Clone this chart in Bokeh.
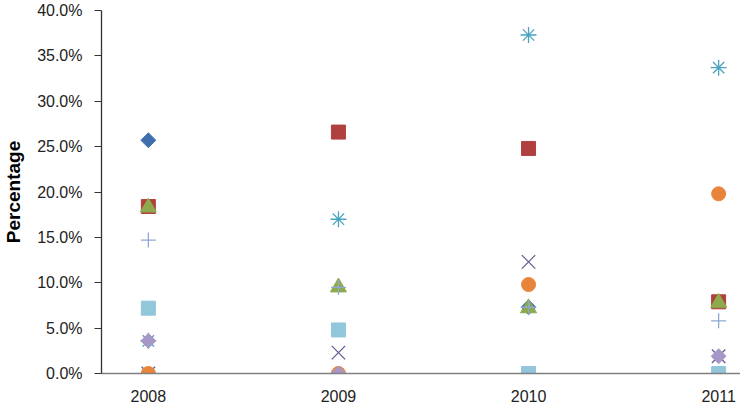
import math
from bokeh.plotting import figure
from bokeh.models import Range1d, FixedTicker, NumeralTickFormatter, ColumnDataSource
from bokeh.embed import file_html
from bokeh.resources import INLINE

years = ["2008", "2009", "2010", "2011"]
y_ticks = [0, 5, 10, 15, 20, 25, 30, 35, 40]

s1_diamond_blue = [25.7, 0.0, 7.3, 0.0]
s2_square_red = [18.4, 26.6, 24.8, 7.9]
s3_triangle_green = [18.3, 9.5, 7.2, 7.8]
s4_x_purple = [0.0, 2.3, 12.3, 1.9]
s5_star_teal = [3.6, 17.0, 37.3, 33.7]
s6_circle_orange = [0.0, 0.0, 9.8, 19.8]
s7_plus_lightblue = [14.7, 9.5, 7.3, 5.8]
s8_diamond_lavender = [3.6, 0.0, 0.0, 1.9]
s9_square_lightteal = [7.2, 4.8, 0.0, 0.0]

# (values, marker, colour, size, filled, angle)
series = [
    (s1_diamond_blue, "square", "#3F6FAE", 10.5, True, math.pi / 4),
    (s2_square_red, "square", "#B0403E", 14, True, 0),
    (s3_triangle_green, "triangle", "#8DAA4C", 16, True, 0),
    (s4_x_purple, "x", "#6A5A96", 19, False, 0),
    (s5_star_teal, "asterisk", "#4AA4C0", 16, False, 0),
    (s6_circle_orange, "circle", "#E9843B", 14, True, 0),
    (s7_plus_lightblue, "cross", "#8EA7D6", 15, False, 0),
    (s8_diamond_lavender, "square", "#A797C6", 10.5, True, math.pi / 4),
    (s9_square_lightteal, "square", "#92C6DB", 14, True, 0),
]

p = figure(width=740, height=404, output_backend="svg", toolbar_location=None,
           x_range=Range1d(-0.2465, 3.115), y_range=Range1d(0, 0.40),
           min_border_left=99, min_border_top=10, min_border_bottom=30, min_border_right=0)
p.outline_line_color = None
p.grid.visible = False
p.background_fill_color = "white"

xs = list(range(len(years)))
for vals, marker, color, size, filled, angle in series:
    src = ColumnDataSource(dict(x=xs, y=[v / 100 for v in vals]))
    if filled:
        p.scatter("x", "y", source=src, marker=marker, size=size, angle=angle,
                  fill_color=color, line_color=color, line_width=1)
    else:
        p.scatter("x", "y", source=src, marker=marker, size=size, angle=angle,
                  fill_color=None, line_color=color, line_width=1.3)

p.xaxis.ticker = FixedTicker(ticks=xs)
p.xaxis.major_label_overrides = {i: y for i, y in enumerate(years)}
p.xaxis.major_tick_line_color = None
p.xaxis.minor_tick_line_color = None
p.xaxis.axis_line_color = "#808080"
p.xaxis.axis_line_width = 1.5
p.xaxis.major_label_text_font = "Liberation Sans"
p.xaxis.major_label_text_font_size = "16px"
p.xaxis.major_label_text_color = "#222222"
p.xaxis.major_label_standoff = 10

p.yaxis.ticker = FixedTicker(ticks=[t / 100 for t in y_ticks])
p.yaxis.formatter = NumeralTickFormatter(format="0.0%")
p.yaxis.minor_tick_line_color = None
p.yaxis.major_tick_out = 7
p.yaxis.major_tick_in = 0
p.yaxis.axis_line_color = "#333333"
p.yaxis.major_tick_line_color = "#333333"
p.yaxis.axis_line_width = 1.3
p.yaxis.major_label_text_font = "Liberation Sans"
p.yaxis.major_label_text_font_size = "16px"
p.yaxis.major_label_text_color = "#222222"
p.yaxis.major_label_standoff = 12
p.yaxis.axis_label = "Percentage"
p.yaxis.axis_label_text_font = "Liberation Sans"
p.yaxis.axis_label_text_font_style = "bold"
p.yaxis.axis_label_text_font_size = "19px"
p.yaxis.axis_label_text_color = "#000000"
p.yaxis.axis_label_standoff = 10

open("out.html", "w").write(file_html(p, INLINE))
